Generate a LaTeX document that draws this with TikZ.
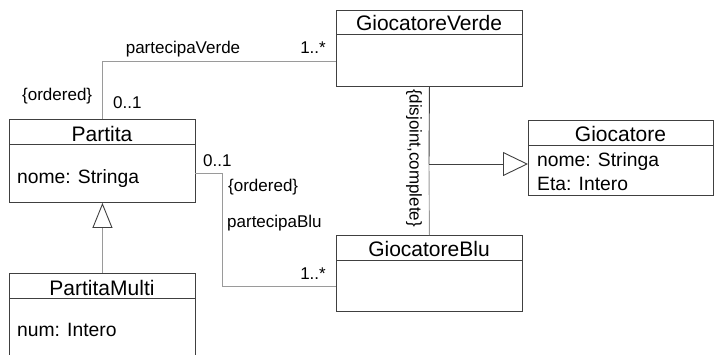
\documentclass[tikz,border=0pt]{standalone}
\usepackage{fontspec}
\setmainfont{Liberation Sans}
\usetikzlibrary{arrows.meta}
\definecolor{boxcol}{HTML}{404040}
\definecolor{linecol}{HTML}{9A9A9A}
\begin{document}
\begin{tikzpicture}[x=1pt,y=-1pt,
  cls/.style={draw=boxcol,line width=0.9pt,rectangle,inner sep=0pt,anchor=north west,fill=white},
  title/.style={anchor=base,inner sep=0pt,font=\fontsize{21}{21}\selectfont},
  attr/.style={anchor=base west,inner sep=0pt,font=\fontsize{19.3}{19.3}\selectfont},
  lbl/.style={inner sep=0pt,font=\fontsize{17}{17}\selectfont},
  assoc/.style={draw=linecol,line width=0.9pt},
  hdr/.style={draw=boxcol,line width=0.9pt},
  gen/.style={line width=0.9pt,-{Triangle[open,length=25pt,width=#1,fill=white,color=boxcol]}}
]
\clip (0,0) rectangle (715,354);
\fill[white] (0,0) rectangle (715,354);

% classes
\node[cls,minimum width=186pt,minimum height=76pt] (gv) at (336,10) {};
\node[cls,minimum width=185pt,minimum height=75pt] (gio) at (528,120) {};
\node[cls,minimum width=186pt,minimum height=76pt] (gb) at (336,235) {};
\node[cls,minimum width=186pt,minimum height=83pt] (pa) at (9,119) {};
\node[cls,minimum width=186pt,minimum height=100pt] (pm) at (9,273) {};

% header separators
\draw[hdr] (336,34) -- (522,34);
\draw[hdr] (528,145) -- (713,145);
\draw[hdr] (336,260) -- (522,260);
\draw[hdr] (9,144) -- (195,144);
\draw[hdr] (9,298) -- (195,298);

% titles
\node[title] (tgv) at (429,30.5) {GiocatoreVerde};
\node[title] (tgio) at (620.5,141) {Giocatore};
\node[title] (tgb) at (429,256.5) {GiocatoreBlu};
\node[title] (tpa) at (102,141) {Partita};
\node[title] (tpm) at (102,295.5) {PartitaMulti};

% attributes
\node[attr] (a1) at (537,166) {nome: Stringa};
\node[attr] (a2) at (537,190) {Eta: Intero};
\node[attr] (a3) at (17,183) {nome: Stringa};
\node[attr] (a4) at (17,336.5) {num: Intero};

% connector end points
\coordinate (pvEnd) at (336,61);
\coordinate (pbStart) at (195,173);
\coordinate (pbEnd) at (336,286);
\coordinate (junc) at (429,164);
\coordinate (gtip) at (528,164);

% associations
\draw[assoc] (pa.north) |- (pvEnd);
\draw[assoc] (pbStart) -- (222,173) |- (pbEnd);

% generalizations
\draw[hdr] (gv.south) -- (junc);
\draw[assoc] (junc) -- (gb.north);
\draw[boxcol,gen=24pt] (junc) -- (gtip);
\draw[linecol,gen=20pt] (pm.north -| pa.south) -- (pa.south);

% labels
\node[lbl,anchor=base] (l1) at (183,53) {partecipaVerde};
\node[lbl,anchor=base east] (l2) at (326,53) {1..*};
\node[lbl,anchor=base west] (l3) at (22,100) {\{ordered\}};
\node[lbl,anchor=base west] (l4) at (113,108) {0..1};
\node[lbl,anchor=base west] (l5) at (203,166) {0..1};
\node[lbl,anchor=base west] (l6) at (228,191) {\{ordered\}};
\node[lbl,anchor=base west] (l7) at (227,227) {partecipaBlu};
\node[lbl,anchor=base east] (l8) at (326,279) {1..*};
\node[lbl,rotate=-90] (l9) at (414,158) {\{disjoint,complete\}};
\end{tikzpicture}
\end{document}
